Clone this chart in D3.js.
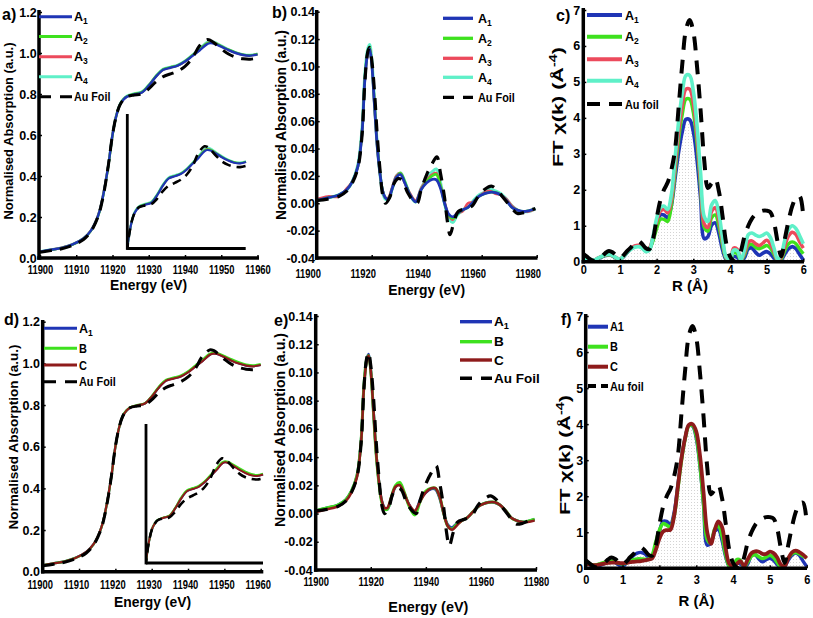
<!DOCTYPE html>
<html><head><meta charset="utf-8">
<script src="https://cdn.jsdelivr.net/npm/d3@7"></script>
<style>
html,body{margin:0;padding:0;background:#fff;overflow:hidden}
svg text{font-family:"Liberation Sans",Arial,Helvetica,sans-serif;font-weight:bold;fill:#000}
</style></head><body>
<script>
// ---------------- DATA ----------------
// XANES (panels a, d)
const xanesE   = [11900,11903,11906,11909,11912,11914,11916,11917,11918,11919,11920,11921,11922,11923,11924,11926,11928,11930,11932,11934,11936,11938,11940,11942,11944,11946,11947,11948,11950,11952,11954,11956,11958,11960];
const xanesA1  = [0.031,0.040,0.049,0.066,0.095,0.132,0.205,0.270,0.360,0.470,0.600,0.690,0.745,0.772,0.787,0.798,0.806,0.840,0.885,0.918,0.928,0.938,0.958,0.985,1.012,1.042,1.048,1.046,1.031,1.014,1.000,0.990,0.987,0.993];
const xanesA2  = [0.030,0.039,0.049,0.065,0.094,0.131,0.203,0.268,0.358,0.468,0.598,0.690,0.746,0.774,0.789,0.800,0.808,0.842,0.887,0.920,0.930,0.940,0.960,0.988,1.016,1.046,1.052,1.049,1.033,1.016,1.002,0.992,0.989,0.995];
const xanesA3  = [0.031,0.040,0.050,0.066,0.095,0.133,0.206,0.272,0.362,0.471,0.601,0.691,0.746,0.773,0.788,0.799,0.807,0.841,0.886,0.919,0.929,0.939,0.959,0.987,1.015,1.047,1.053,1.050,1.033,1.015,1.001,0.991,0.988,0.994];
const xanesA4  = [0.032,0.041,0.050,0.067,0.096,0.133,0.206,0.272,0.362,0.472,0.602,0.692,0.748,0.776,0.791,0.802,0.810,0.844,0.889,0.922,0.932,0.942,0.962,0.990,1.020,1.052,1.058,1.054,1.036,1.018,1.003,0.993,0.990,0.996];
const xanesB   = [0.031,0.040,0.049,0.066,0.094,0.131,0.204,0.269,0.359,0.469,0.599,0.690,0.746,0.773,0.788,0.799,0.807,0.842,0.888,0.921,0.931,0.941,0.961,0.989,1.017,1.046,1.051,1.049,1.035,1.019,1.005,0.994,0.990,0.996];
const xanesC   = [0.031,0.040,0.049,0.066,0.095,0.132,0.205,0.270,0.360,0.470,0.600,0.690,0.745,0.772,0.787,0.798,0.806,0.840,0.884,0.917,0.927,0.937,0.957,0.984,1.011,1.041,1.047,1.045,1.030,1.013,0.999,0.989,0.986,0.992];
const xanesFoil= [0.028,0.036,0.045,0.062,0.090,0.128,0.200,0.265,0.355,0.470,0.600,0.690,0.745,0.772,0.787,0.795,0.800,0.825,0.860,0.885,0.898,0.912,0.935,0.975,1.035,1.065,1.062,1.050,1.020,0.995,0.980,0.972,0.970,0.975];

// First derivative (panels b, e)
const derivE  = [11900,11904,11908,11911,11913,11915,11916.5,11917.5,11918.5,11919.2,11920,11921,11922,11923,11924,11925,11926,11927.5,11929,11930.5,11932,11934,11936,11938,11940,11942,11943.5,11945,11946.5,11948,11949.5,11951,11953,11955,11957,11959,11961,11963,11965,11967,11969,11971,11973,11975,11977,11979.5];
const derivA1 = [0.002,0.004,0.006,0.010,0.016,0.027,0.052,0.090,0.109,0.113,0.102,0.072,0.042,0.022,0.009,0.004,0.003,0.011,0.019,0.021,0.015,0.006,0.001,0.010,0.015,0.0175,0.0172,0.011,0.000,-0.008,-0.010,-0.0075,-0.005,-0.003,0.001,0.005,0.007,0.008,0.0078,0.006,0.002,-0.003,-0.005,-0.006,-0.0055,-0.004];
const derivA2 = [0.002,0.004,0.006,0.010,0.016,0.027,0.053,0.091,0.110,0.114,0.103,0.073,0.043,0.022,0.009,0.004,0.003,0.011,0.019,0.022,0.016,0.006,0.001,0.010,0.016,0.020,0.021,0.013,0.000,-0.009,-0.011,-0.008,-0.005,-0.003,0.001,0.005,0.007,0.008,0.008,0.006,0.002,-0.003,-0.005,-0.006,-0.0055,-0.004];
const derivA3 = [0.003,0.005,0.005,0.011,0.016,0.027,0.052,0.090,0.109,0.114,0.103,0.072,0.042,0.022,0.009,0.004,0.004,0.012,0.020,0.022,0.015,0.007,0.002,0.011,0.017,0.021,0.022,0.013,0.001,-0.009,-0.012,-0.007,-0.006,0.000,0.001,0.005,0.008,0.009,0.007,0.006,0.003,-0.002,-0.005,-0.006,-0.006,-0.004];
const derivA4 = [0.002,0.004,0.006,0.010,0.016,0.028,0.054,0.093,0.112,0.116,0.105,0.074,0.043,0.022,0.008,0.003,0.003,0.011,0.020,0.022,0.016,0.006,0.001,0.011,0.018,0.023,0.025,0.015,0.000,-0.011,-0.014,-0.009,-0.005,-0.003,0.002,0.006,0.008,0.010,0.009,0.007,0.003,-0.002,-0.005,-0.006,-0.006,-0.004];
const derivB  = [0.002,0.004,0.006,0.010,0.016,0.027,0.052,0.090,0.109,0.112,0.101,0.071,0.041,0.021,0.008,0.003,0.003,0.012,0.020,0.022,0.016,0.005,-0.001,0.009,0.016,0.018,0.018,0.012,0.000,-0.009,-0.011,-0.008,-0.005,-0.003,0.001,0.005,0.007,0.008,0.008,0.006,0.002,-0.003,-0.005,-0.006,-0.0055,-0.004];
const derivC  = [0.001,0.003,0.005,0.009,0.015,0.026,0.051,0.089,0.108,0.112,0.101,0.072,0.042,0.022,0.009,0.004,0.004,0.012,0.019,0.020,0.015,0.006,0.002,0.009,0.015,0.018,0.018,0.012,0.000,-0.009,-0.0115,-0.009,-0.005,-0.003,0.001,0.005,0.007,0.008,0.008,0.006,0.002,-0.003,-0.005,-0.006,-0.006,-0.005];
const derivFoilE = [11900,11904,11908,11911,11913,11915,11916.5,11917.5,11918.5,11919.2,11920,11921,11922,11923,11924,11925,11926.5,11928,11929.5,11931,11933,11935,11936.5,11938,11940,11942,11943.7,11945,11946.5,11947.5,11948.5,11950,11951.5,11954,11956.5,11959,11961,11963.5,11965.5,11967.5,11969.5,11971.5,11973,11975,11977.5,11979.5];
const derivFoil  = [0.002,0.003,0.005,0.009,0.015,0.026,0.050,0.088,0.110,0.114,0.105,0.082,0.050,0.025,0.006,0.000,0.004,0.014,0.018,0.017,0.008,0.002,0.000,0.010,0.021,0.029,0.034,0.022,0.004,-0.013,-0.023,-0.013,-0.006,-0.004,-0.002,0.006,0.010,0.0125,0.010,0.005,0.000,-0.005,-0.0075,-0.007,-0.005,-0.004];

// Fourier transform of EXAFS (panels c, f)
const exafsR  = [0.0,0.1,0.2,0.3,0.4,0.5,0.6,0.7,0.8,0.9,1.0,1.1,1.2,1.3,1.4,1.5,1.6,1.7,1.8,1.9,2.0,2.1,2.2,2.3,2.4,2.5,2.6,2.7,2.8,2.9,3.0,3.1,3.2,3.3,3.4,3.5,3.6,3.7,3.8,3.9,4.0,4.1,4.2,4.3,4.4,4.5,4.6,4.7,4.8,4.9,5.0,5.1,5.2,5.3,5.4,5.5,5.6,5.7,5.8,5.9,6.0];
const exafsA1 = [0.15,0.10,0.05,0.03,0.08,0.13,0.17,0.19,0.16,0.09,0.05,0.14,0.26,0.36,0.42,0.44,0.40,0.32,0.36,0.62,1.02,1.30,1.30,1.22,1.55,2.30,3.05,3.62,3.96,3.95,3.62,2.85,1.75,0.64,0.70,1.02,1.08,0.78,0.32,0.05,0.02,0.14,0.12,0.02,0.12,0.36,0.38,0.26,0.18,0.24,0.28,0.22,0.10,0.01,0.05,0.22,0.36,0.42,0.36,0.20,0.05];
const exafsA2 = [0.14,0.09,0.05,0.04,0.09,0.14,0.18,0.19,0.16,0.10,0.06,0.15,0.27,0.36,0.42,0.44,0.40,0.33,0.36,0.58,0.92,1.18,1.18,1.12,1.55,2.45,3.40,4.10,4.52,4.52,4.15,3.30,2.05,0.95,0.85,1.22,1.30,0.98,0.45,0.08,0.03,0.25,0.22,0.03,0.20,0.46,0.48,0.40,0.36,0.40,0.45,0.38,0.20,0.03,0.08,0.32,0.50,0.55,0.50,0.35,0.22];
const exafsA3 = [0.14,0.09,0.06,0.05,0.10,0.15,0.19,0.20,0.17,0.11,0.07,0.17,0.29,0.38,0.44,0.46,0.42,0.34,0.38,0.68,1.10,1.40,1.45,1.36,1.70,2.60,3.60,4.35,4.80,4.80,4.40,3.50,2.20,1.05,0.95,1.40,1.50,1.15,0.55,0.10,0.05,0.38,0.35,0.05,0.25,0.55,0.58,0.50,0.45,0.52,0.60,0.50,0.28,0.04,0.12,0.45,0.72,0.82,0.75,0.55,0.38];
const exafsA4 = [0.13,0.08,0.05,0.05,0.10,0.15,0.19,0.20,0.17,0.11,0.07,0.16,0.27,0.35,0.40,0.42,0.38,0.28,0.32,0.70,1.20,1.50,1.55,1.45,1.85,2.85,3.90,4.70,5.18,5.18,4.75,3.80,2.45,1.25,1.12,1.58,1.70,1.32,0.65,0.12,0.05,0.32,0.30,0.05,0.35,0.75,0.80,0.74,0.70,0.74,0.80,0.68,0.38,0.06,0.20,0.62,0.90,1.00,0.92,0.72,0.50];
const exafsB  = [0.16,0.12,0.09,0.10,0.13,0.16,0.19,0.20,0.18,0.14,0.12,0.15,0.20,0.24,0.26,0.26,0.25,0.25,0.35,0.72,1.05,1.24,1.20,1.14,1.45,2.20,3.00,3.60,3.95,3.97,3.68,2.90,1.80,0.80,0.70,1.08,1.18,0.90,0.38,0.06,0.04,0.24,0.22,0.04,0.18,0.34,0.38,0.32,0.27,0.31,0.36,0.30,0.16,0.03,0.10,0.28,0.40,0.44,0.40,0.34,0.30];
const exafsC  = [0.14,0.11,0.09,0.09,0.11,0.13,0.15,0.16,0.16,0.15,0.14,0.15,0.17,0.18,0.19,0.20,0.22,0.24,0.27,0.50,0.82,1.02,1.06,1.07,1.45,2.25,3.05,3.62,3.98,4.00,3.80,3.15,2.10,1.00,0.68,1.05,1.30,1.15,0.55,0.12,0.06,0.12,0.20,0.06,0.25,0.42,0.47,0.46,0.40,0.40,0.46,0.42,0.30,0.10,0.06,0.28,0.44,0.49,0.45,0.38,0.28];
const exafsFoil=[0.22,0.14,0.06,0.02,0.06,0.14,0.24,0.30,0.26,0.17,0.10,0.18,0.30,0.40,0.52,0.58,0.50,0.38,0.35,0.62,1.20,1.70,2.00,2.20,2.55,3.10,4.30,5.50,6.45,6.72,6.40,5.45,4.20,2.80,2.05,2.18,2.30,1.95,1.25,0.50,0.15,0.02,0.00,0.30,0.72,1.00,1.20,1.32,1.38,1.42,1.42,1.38,1.10,0.55,0.15,0.65,1.15,1.55,1.78,1.82,1.25];

// Ticks
const energyTicks10 = [11900,11910,11920,11930,11940,11950,11960];
const energyTicks20 = [11900,11920,11940,11960,11980];
const absTicks   = [0,0.2,0.4,0.6,0.8,1.0,1.2];
const derivTicks = [-0.04,-0.02,0,0.02,0.04,0.06,0.08,0.10,0.12,0.14];
const ftTicks    = [0,1,2,3,4,5,6,7];
const rTicks     = [0,1,2,3,4,5,6];

// Legend labels
const legendTop  = ["A1","A2","A3","A4","Au Foil"];
const legendTopC = ["A1","A2","A3","A4","Au foil"];
const legendBot  = ["A1","B","C","Au Foil"];
const legendBotF = ["A1","B","C","Au foil"];

// ---------------- DRAWING ----------------
const COL = {A1:'#1f35b5', A2:'#3ee11e', A3:'#ec4a5c', A4:'#5ff0c8', B:'#3ee11e', C:'#8e1b1b', foil:'#000'};
const FONT = '"Liberation Sans",Arial,Helvetica,sans-serif';
const TICKFS = 12.5;
const svg = d3.select('body').append('svg').attr('width',813).attr('height',618);
const defs = svg.append('defs');
const pat = defs.append('pattern').attr('id','stip').attr('width',3).attr('height',3).attr('patternUnits','userSpaceOnUse');
pat.append('rect').attr('x',1).attr('y',1).attr('width',1).attr('height',1).attr('fill','#d4d4d4');

function condense(sel, f){
  sel.each(function(){
    const L = this.getComputedTextLength();
    this.setAttribute('textLength', (L*f).toFixed(1));
    this.setAttribute('lengthAdjust','spacingAndGlyphs');
  });
}
let clipId = 0;
function addClip(x0,y0,w,h){
  const id = 'clip'+(clipId++);
  defs.append('clipPath').attr('id',id).append('rect').attr('x',x0).attr('y',y0).attr('width',w).attr('height',h);
  return 'url(#'+id+')';
}
const curve = d3.curveCatmullRom.alpha(0.5);

function drawSeries(g, x, y, series){
  const line = d3.line().x(d=>x(d[0])).y(d=>y(d[1])).curve(curve);
  series.forEach(s=>{
    g.append('path').datum(d3.zip(s.x, s.y)).attr('d', line)
      .attr('fill','none').attr('stroke', s.c).attr('stroke-width', s.w)
      .attr('stroke-dasharray', s.dash || null)
      .attr('stroke-linejoin','round');
  });
}

function styleTicks(sel){
  sel.attr('font-family', FONT).attr('font-weight','bold').attr('font-size', TICKFS+'px').attr('fill','#000');
}

function panel(p){
  const x = d3.scaleLinear().domain(p.xd).range(p.xr);
  const y = d3.scaleLinear().domain(p.yd).range(p.yr);
  const g = svg.append('g');
  const plot = g.append('g').attr('clip-path', addClip(p.ax, p.yr[1]-6, p.xend - p.ax + 4, p.yr[0]-p.yr[1]+6));
  if (p.fill){
    const area = d3.area().x(d=>x(d[0])).y0(y(0)).y1(d=>y(d[1])).curve(curve);
    plot.append('path').datum(d3.zip(p.fill.x, p.fill.y)).attr('d', area).attr('fill','url(#stip)');
  }
  drawSeries(plot, x, y, p.series);

  // axes ticks + labels
  const ax = d3.axisBottom(x).tickValues(p.xt).tickFormat(p.xf).tickSize(-3).tickSizeOuter(0).tickPadding(p.xpad);
  const gx = g.append('g').attr('transform',`translate(0,${p.yr[0]})`).call(ax);
  gx.attr('font-family',null).attr('font-size',null);
  gx.select('.domain').remove();
  gx.selectAll('.tick line').attr('stroke','#000').attr('stroke-width',1.5);
  styleTicks(gx.selectAll('text'));
  gx.selectAll('text').attr('dx', p.xdx || 0);
  condense(gx.selectAll('text'), p.xcond);

  const ay = d3.axisLeft(y).tickValues(p.yt).tickFormat(p.yf).tickSize(-3).tickSizeOuter(0).tickPadding(p.ypad);
  const gy = g.append('g').attr('transform',`translate(${p.ax},0)`).call(ay);
  gy.attr('font-family',null).attr('font-size',null);
  gy.select('.domain').remove();
  gy.selectAll('.tick line').attr('stroke','#000').attr('stroke-width',1.5);
  styleTicks(gy.selectAll('text'));

  // axis lines
  g.append('line').attr('x1',p.ax).attr('x2',p.ax).attr('y1',p.ytop).attr('y2',p.yr[0]+1.75).attr('stroke','#000').attr('stroke-width',3.5);
  g.append('line').attr('x1',p.ax-1.75).attr('x2',p.xend).attr('y1',p.yr[0]).attr('y2',p.yr[0]).attr('stroke','#000').attr('stroke-width',3.5);

  // titles
  const yt = g.append('text').attr('transform',`translate(${p.ytx},${p.yty}) rotate(-90)`).attr('text-anchor','middle').attr('font-size',p.ytfs+'px');
  p.ytitle(yt);
  if (p.ytlen) { yt.attr('textLength',p.ytlen).attr('lengthAdjust','spacingAndGlyphs'); }
  const xt = g.append('text').attr('x',p.xtx).attr('y',p.xty).attr('text-anchor','middle').attr('font-size','15px').text(p.xtitle);
  if (p.xtlen) { xt.attr('textLength',p.xtlen).attr('lengthAdjust','spacingAndGlyphs'); }

  // panel letter
  g.append('text').attr('x',p.lab[0]).attr('y',p.lab[1]).attr('font-size','16px').text(p.lab[2]);

  // legend
  p.legend.forEach((L,i)=>{
    const yy = p.ly[i];
    g.append('line').attr('x1',p.lx[0]).attr('x2',p.lx[1]).attr('y1',yy).attr('y2',yy)
      .attr('stroke',L.c).attr('stroke-width',L.w).attr('stroke-dasharray',L.dash||null);
    const t = g.append('text').attr('x',p.tx).attr('y',yy+4.5).attr('font-size',p.lfs+'px');
    const m = p.sub ? L.label.match(/^([A-Z])(\d)$/) : null;
    if (m){
      t.append('tspan').text(m[1]);
      t.append('tspan').attr('font-size',(p.lfs*0.68).toFixed(1)+'px').attr('dy',3).text(m[2]);
    } else {
      t.text(L.label);
      condense(t, p.lcond);
    }
  });
  return {x,y,g};
}

function inset(p){
  const x = d3.scaleLinear().domain(p.xd).range(p.xr);
  const y = d3.scaleLinear().domain(p.yd).range(p.yr);
  const g = svg.append('g');
  const plot = g.append('g').attr('clip-path', addClip(p.xr[0], p.yr[1]-10, p.xr[1]-p.xr[0]+4, p.yr[0]-p.yr[1]+10));
  drawSeries(plot, x, y, p.series);
  g.append('line').attr('x1',p.xr[0]).attr('x2',p.xr[0]).attr('y1',p.top).attr('y2',p.yr[0]+1.4).attr('stroke','#000').attr('stroke-width',2.8);
  g.append('line').attr('x1',p.xr[0]).attr('x2',p.hend).attr('y1',p.yr[0]).attr('y2',p.yr[0]).attr('stroke','#000').attr('stroke-width',2.8);
}

const f1 = d=>d.toFixed(1), f2 = d=>d.toFixed(2), f0 = d=>String(d);
const absTitle = t=>t.text('Normalised Absorption (a.u.)');
const ftTitle = t=>{ t.append('tspan').text('FT \u03c7(k) (\u00c5'); t.append('tspan').attr('font-size','10px').attr('dy',-6).text('-4'); t.append('tspan').attr('dy',6).text(')'); };

// ---- panel a ----
const serA = [
  {x:xanesE,y:xanesA4,c:COL.A4,w:2.6},{x:xanesE,y:xanesA3,c:COL.A3,w:2.4},
  {x:xanesE,y:xanesA2,c:COL.A2,w:2.4},{x:xanesE,y:xanesA1,c:COL.A1,w:2.4},
  {x:xanesE,y:xanesFoil,c:COL.foil,w:3,dash:'12,8'}];
panel({xd:[11900,11960], xr:[40,257.5], yd:[0,1.2], yr:[258,12], ax:39, ytop:10, xend:259,
  xt:energyTicks10, xf:f0, xpad:7.2, xcond:0.75, yt:absTicks, yf:f1, ypad:2.4,
  series:serA, ytitle:absTitle, ytx:13, yty:131, ytfs:13, ytlen:177,
  xtitle:'Energy (eV)', xtx:148.5, xty:289.5, xtlen:77, lab:[2,20,'a)'],
  legend: legendTop.map((l,i)=>({label:l, c:[COL.A1,COL.A2,COL.A3,COL.A4,COL.foil][i], w:3, dash: i==4?'12,9':null})),
  ly:[16.7,36.5,56.7,76.7,96.7], lx:[39,72], tx:74, lfs:12.5, lcond:0.86, sub:true});
inset({xd:[11920,11960], xr:[127.3,246], yd:[0.598,1.208], yr:[248.5,115], top:114, hend:245.7,
  series:[{x:xanesE,y:xanesA4,c:COL.A4,w:2.4},{x:xanesE,y:xanesA3,c:COL.A3,w:2},{x:xanesE,y:xanesA2,c:COL.A2,w:2},
          {x:xanesE,y:xanesA1,c:COL.A1,w:2.2},{x:xanesE,y:xanesFoil,c:COL.foil,w:2.6,dash:'9,6'}]});

// ---- panel b ----
const serB = [
  {x:derivE,y:derivA4,c:COL.A4,w:3.2},{x:derivE,y:derivA3,c:COL.A3,w:2.6},
  {x:derivE,y:derivA2,c:COL.A2,w:2.6},{x:derivE,y:derivA1,c:COL.A1,w:2.8},
  {x:derivFoilE,y:derivFoil,c:COL.foil,w:3.2,dash:'12,9'}];
panel({xd:[11900,11980], xr:[316.7,536.7], yd:[-0.04,0.14], yr:[258,11.7], ax:316.7, ytop:10, xend:537.5,
  xt:energyTicks20, xf:f0, xpad:11.5, xdx:-9, xcond:0.75, yt:derivTicks, yf:f2, ypad:1.8,
  series:serB, ytitle:absTitle, ytx:286, yty:125, ytfs:13.8, ytlen:190,
  xtitle:'Energy (eV)', xtx:426.7, xty:295, xtlen:77, lab:[272,18,'b)'],
  legend: legendTop.map((l,i)=>({label:l, c:[COL.A1,COL.A2,COL.A3,COL.A4,COL.foil][i], w:3.3, dash: i==4?'11,9':null})),
  ly:[18.3,38.3,58.3,77.3,97.3], lx:[443,473], tx:478, lfs:12.5, lcond:0.87, sub:true});

// ---- panel c ----
const serC = [
  {x:exafsR,y:exafsA1,c:COL.A1,w:3.6},{x:exafsR,y:exafsA2,c:COL.A2,w:3.4},
  {x:exafsR,y:exafsA3,c:COL.A3,w:3.4},{x:exafsR,y:exafsA4,c:COL.A4,w:3.6},
  {x:exafsR,y:exafsFoil,c:COL.foil,w:4,dash:'14,10'}];
panel({xd:[0,6], xr:[583.3,803.3], yd:[0,7], yr:[261.7,10], ax:583.3, ytop:8, xend:804,
  xt:rTicks, xf:f0, xpad:3.4, xcond:0.88, yt:ftTicks, yf:f0, ypad:3,
  series:serC, fill:{x:exafsR,y:exafsA1}, ytitle:ftTitle, ytx:563, yty:107, ytfs:15, ytlen:120,
  xtitle:'R (\u00c5)', xtx:690, xty:291, lab:[556,21,'c)'],
  legend: legendTopC.map((l,i)=>({label:l, c:[COL.A1,COL.A2,COL.A3,COL.A4,COL.foil][i], w:4, dash: i==4?'13,9':null})),
  ly:[15,36.7,59.3,80.7,104], lx:[587,622], tx:625, lfs:12.5, lcond:0.87, sub:true});

// ---- panel d ----
const serD = [
  {x:xanesE,y:xanesA1,c:COL.A1,w:2.4},{x:xanesE,y:xanesB,c:COL.B,w:2.4},
  {x:xanesE,y:xanesC,c:COL.C,w:2.2},{x:xanesE,y:xanesFoil,c:COL.foil,w:3,dash:'12,8'}];
panel({xd:[11900,11960], xr:[42.7,260.7], yd:[0,1.2], yr:[571.7,321.7], ax:42.7, ytop:320, xend:263.3,
  xt:energyTicks10, xf:f0, xpad:8.3, xdx:-3, xcond:0.75, yt:absTicks, yf:f1, ypad:2.7,
  series:serD, ytitle:absTitle, ytx:18, yty:437, ytfs:13.5, ytlen:185,
  xtitle:'Energy (eV)', xtx:152.5, xty:606.5, xtlen:77, lab:[4,325,'d)'],
  legend: legendBot.map((l,i)=>({label:l, c:[COL.A1,COL.B,COL.C,COL.foil][i], w:3, dash: i==3?'12,9':null})),
  ly:[328.3,348.3,365,381.7], lx:[44,77], tx:79, lfs:12.5, lcond:0.87, sub:true});
inset({xd:[11920,11960], xr:[146,263], yd:[0.595,1.21], yr:[563,426], top:424, hend:263,
  series:[{x:xanesE,y:xanesA1,c:COL.A1,w:2.2},{x:xanesE,y:xanesB,c:COL.B,w:2.2},{x:xanesE,y:xanesC,c:COL.C,w:2},
          {x:xanesE,y:xanesFoil,c:COL.foil,w:2.6,dash:'9,6'}]});

// ---- panel e ----
const serE = [
  {x:derivE,y:derivA1,c:COL.A1,w:2.8},{x:derivE,y:derivB,c:COL.B,w:3},
  {x:derivE,y:derivC,c:COL.C,w:2.6},{x:derivFoilE,y:derivFoil,c:COL.foil,w:3.2,dash:'12,9'}];
panel({xd:[11900,11980], xr:[315.7,536], yd:[-0.04,0.14], yr:[570,316], ax:315.7, ytop:314, xend:537,
  xt:energyTicks20, xf:f0, xpad:7.6, xcond:0.75, yt:derivTicks, yf:f2, ypad:3,
  series:serE, ytitle:absTitle, ytx:285, yty:430, ytfs:14, ytlen:194,
  xtitle:'Energy (eV)', xtx:428.3, xty:612, xtlen:80, lab:[274,326,'e)'],
  legend: legendBot.map((l,i)=>({label:l, c:[COL.A1,COL.B,COL.C,COL.foil][i], w:3.4, dash: i==3?'12,9':null})),
  ly:[321.7,341.7,360,378.3], lx:[460,492], tx:494, lfs:13.5, lcond:1.0, sub:true});

// ---- panel f ----
const serF = [
  {x:exafsR,y:exafsA1,c:COL.A1,w:3.4},{x:exafsR,y:exafsB,c:COL.B,w:3.6},
  {x:exafsR,y:exafsC,c:COL.C,w:3.8},{x:exafsR,y:exafsFoil,c:COL.foil,w:4,dash:'14,10'}];
panel({xd:[0,6], xr:[585.7,806.7], yd:[0,7], yr:[568.3,316], ax:585.7, ytop:314, xend:807,
  xt:rTicks, xf:f0, xpad:6.8, xcond:0.88, yt:ftTicks, yf:f0, ypad:2.5,
  series:serF, fill:{x:exafsR,y:exafsA1}, ytitle:ftTitle, ytx:570, yty:455, ytfs:15, ytlen:120,
  xtitle:'R (\u00c5)', xtx:696.5, xty:606, lab:[561,325,'f)'],
  legend: legendBotF.map((l,i)=>({label:l, c:[COL.A1,COL.B,COL.C,COL.foil][i], w:4, dash: i==3?'8,5':null})),
  ly:[326.7,346.7,366.7,386], lx:[588,608], tx:610, lfs:12.5, lcond:0.87, sub:false});
</script></body></html>
